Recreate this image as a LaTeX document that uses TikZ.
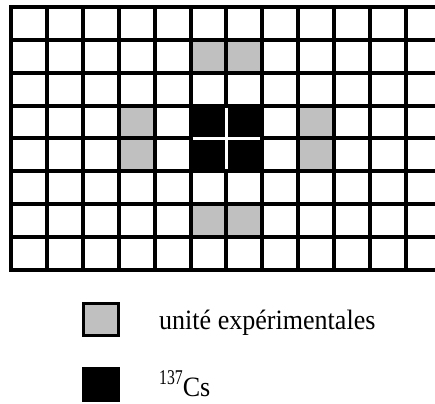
\documentclass[tikz,border=0pt]{standalone}
\usepackage{fontspec}
\usepackage{graphicx}
\setmainfont{Liberation Serif}
\definecolor{cellgray}{RGB}{192,192,192}
\begin{document}
\begin{tikzpicture}[x=1pt,y=-1pt,
  gridline/.style={line width=4pt,black,line cap=rect},
  crossline/.style={line width=2.6pt,white},
  legbox/.style={draw=black,line width=3pt,minimum width=35pt,minimum height=32pt,inner sep=0pt},
  legtext/.style={anchor=base west,inner sep=0pt,font=\fontsize{28}{32}\selectfont}]
\useasboundingbox (0,0) rectangle (435,403);
\fill[white] (0,0) rectangle (435,403);
\def\xo{11}\def\dx{35.9}\def\yo{7}\def\dy{32.875}
\begin{scope}
\clip (0,0) rectangle (435,403);
\foreach \c/\r in {5/1,6/1,3/3,3/4,8/3,8/4,5/6,6/6}
  \fill[cellgray] ({\xo+\c*\dx},{\yo+\r*\dy}) rectangle ++(\dx,\dy);
\foreach \c/\r in {5/3,6/3,5/4,6/4}
  \fill[black] ({\xo+\c*\dx},{\yo+\r*\dy}) rectangle ++(\dx,\dy);
\foreach \i in {0,...,12}
  \draw[gridline] ({\xo+\i*\dx},\yo) -- ({\xo+\i*\dx},{\yo+8*\dy});
\foreach \j in {0,...,8}
  \draw[gridline] (\xo,{\yo+\j*\dy}) -- (445,{\yo+\j*\dy});
\draw[crossline] ({\xo+6*\dx},{\yo+3*\dy+2}) -- ({\xo+6*\dx},{\yo+5*\dy-2});
\draw[crossline] ({\xo+5*\dx+2},{\yo+4*\dy}) -- ({\xo+7*\dx-2},{\yo+4*\dy});
\end{scope}
\node[legbox,fill=cellgray] (leggray) at (101,319.5) {};
\node[legbox,fill=black] (legblack) at (101,384) {};
\node[legtext] (labgray) at (159,329) {\scalebox{0.93}[1]{unité expérimentales}};
\node[legtext] (labcs) at (159,396) {\raisebox{12pt}{\scalebox{0.75}[1]{\fontsize{21}{21}\selectfont 137}}\scalebox{0.93}[1]{Cs}};
\end{tikzpicture}
\end{document}
